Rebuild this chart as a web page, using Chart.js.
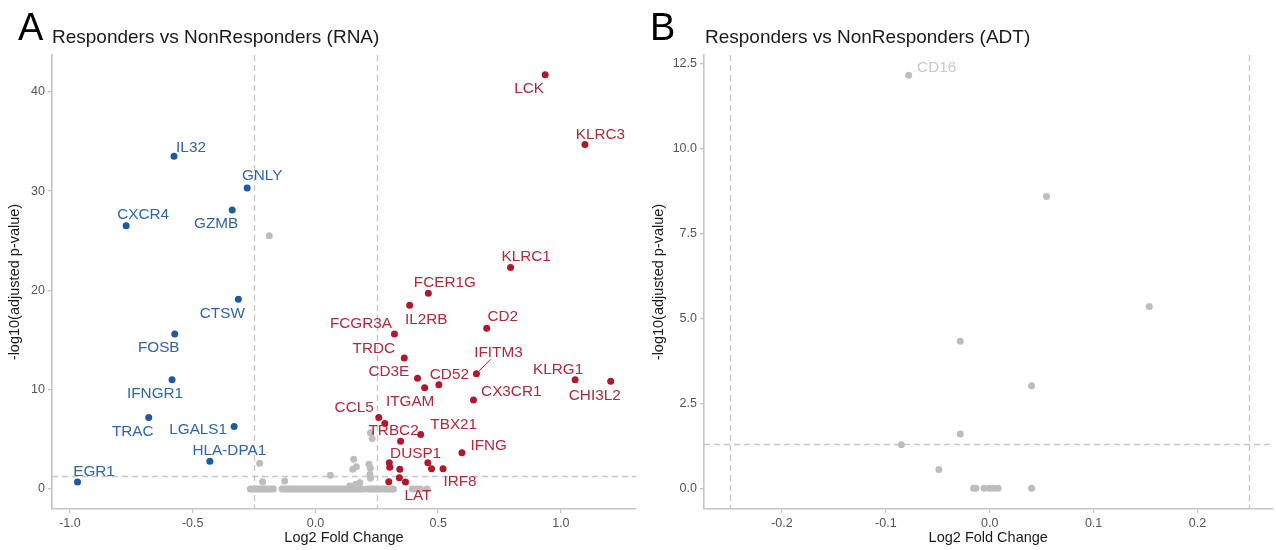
<!DOCTYPE html>
<html><head><meta charset="utf-8">
<script src="https://cdn.jsdelivr.net/npm/chart.js@4.4.1/dist/chart.umd.min.js"></script>
<style>
html,body{margin:0;padding:0;background:#fff;}
body{width:1276px;height:550px;position:relative;overflow:hidden;font-family:"Liberation Sans",Arial,sans-serif;}
.panel{position:absolute;top:0;height:550px;}
.letter{position:absolute;font-size:38px;line-height:38px;color:#000;white-space:nowrap;}
.title{position:absolute;font-size:19px;line-height:19px;color:#1a1a1a;white-space:nowrap;}
</style></head><body>
<div class="panel" style="left:0;width:640px"><canvas id="cA" width="640" height="550"></canvas></div>
<div class="panel" style="left:640px;width:636px"><canvas id="cB" width="636" height="550"></canvas></div>
<div class="letter" style="left:18px;top:8px">A</div>
<div class="title" style="left:52px;top:27px">Responders vs NonResponders (RNA)</div>
<div class="letter" style="left:650px;top:8px">B</div>
<div class="title" style="left:705px;top:27px">Responders vs NonResponders (ADT)</div>
<script>
// ---------- DATA: panel A (RNA) ----------
const rnaDownGenes = ['IL32','GNLY','CXCR4','GZMB','CTSW','FOSB','IFNGR1','TRAC','LGALS1','HLA-DPA1','EGR1'];
const rnaDownLogFC = [-0.576,-0.278,-0.771,-0.339,-0.314,-0.573,-0.584,-0.679,-0.331,-0.430,-0.969];
const rnaDownPadj  = [33.5,30.3,26.5,28.1,19.1,15.6,11.0,7.2,6.3,2.8,0.7];

const rnaUpGenes = ['LCK','KLRC3','KLRC1','FCER1G','IL2RB','CD2','FCGR3A','TRDC','IFITM3','KLRG1','CHI3L2','CD3E','CD52','ITGAM','CX3CR1','CCL5','TRBC2','TBX21','DUSP1','IFNG','IRF8','LAT','','','','','','',''];
const rnaUpLogFC = [0.936,1.098,0.795,0.460,0.384,0.698,0.322,0.362,0.656,1.058,1.203,0.416,0.503,0.445,0.644,0.258,0.283,0.429,0.347,0.597,0.520,0.367,0.301,0.458,0.303,0.344,0.473,0.299,0.342];
const rnaUpPadj  = [41.7,34.7,22.3,19.7,18.5,16.2,15.6,13.2,11.6,11.0,10.85,11.15,10.5,10.2,8.96,7.2,6.6,5.5,4.8,3.66,2.05,0.7,2.65,2.65,2.2,2.0,2.05,0.74,1.14];

const rnaNsLogFC = [-0.188,-0.227,-0.215,-0.125,0.061,0.156,0.167,0.152,0.181,0.224,0.231,0.218,0.224,0.222,0.224,0.163,0.140,
  -0.265,-0.258,-0.249,-0.243,-0.234,-0.226,-0.219,-0.210,-0.203,-0.195,-0.186,-0.178,-0.171,
  -0.136,-0.128,-0.121,-0.112,-0.104,-0.097,-0.088,-0.080,-0.073,-0.064,-0.056,-0.049,-0.041,-0.032,-0.025,-0.017,-0.008,0.000,0.007,0.016,0.024,0.031,0.040,0.048,0.055,0.064,0.072,0.079,0.088,0.096,0.103,0.112,0.120,0.127,0.136,0.144,0.151,0.160,0.168,0.175,0.184,0.191,
  0.212,0.221,0.229,0.238,0.246,0.255,0.263,0.272,0.280,0.289,0.297,0.306,0.314,0.318,
  0.395,0.412,0.428,0.455];
const rnaNsPadj = [25.5,2.6,0.74,0.8,1.4,3.0,2.25,2.0,0.67,5.67,5.1,2.5,2.1,1.48,1.08,0.45,0.3,
  0,0,0,0,0,0,0,0,0,0,0,0,0,
  0,0,0,0,0,0,0,0,0,0,0,0,0,0,0,0,0,0,0,0,0,0,0,0,0,0,0,0,0,0,0,0,0,0,0,0,0,0,0,0,0,0,
  0,0,0,0,0,0,0,0,0,0,0,0,0,0,
  0,0,0,0];

// ---------- DATA: panel B (ADT) ----------
const adtGenes = ['CD16','','','','','','','','','','','','','',''];
const adtLogFC = [-0.078,0.0547,0.1536,-0.0283,0.0403,-0.0283,-0.085,-0.0489,-0.0155,-0.0132,-0.0054,0.000,0.0035,0.0081,0.0403];
const adtPadj  = [12.16,8.59,5.35,4.33,3.02,1.60,1.28,0.55,0,0,0,0,0,0,0];

// ---------- thresholds & ticks ----------
const fcCutoff = 0.25;
const padjCutoff = 1.3;
const xTickLabelsA = ['-1.0','-0.5','0.0','0.5','1.0'];
const yTickLabelsA = ['0','10','20','30','40'];
const xTickLabelsB = ['-0.2','-0.1','0.0','0.1','0.2'];
const yTickLabelsB = ['0.0','2.5','5.0','7.5','10.0','12.5'];

// ---------- layout (label offsets in px, relative to point) ----------
const labelOffsetsA = {
  IL32:[17,-10], GNLY:[15,-13], CXCR4:[17,-12], GZMB:[-16,13], CTSW:[-16,13], FOSB:[-16,13],
  IFNGR1:[-17,13], TRAC:[-16,13], LGALS1:[-36,2], 'HLA-DPA1':[19.5,-11], EGR1:[16.5,-11],
  LCK:[-16,13], KLRC3:[15.5,-10.5], KLRC1:[15.6,-11.3], FCER1G:[16.5,-12], IL2RB:[16.5,13.5],
  CD2:[16,-12], FCGR3A:[-33.5,-11.5], TRDC:[-30.4,-10.5], IFITM3:[22,-22.5,true], KLRG1:[-17,-11],
  CHI3L2:[-16,13.7], CD3E:[-28.7,-7.8], CD52:[10.5,-11.2], ITGAM:[-14.5,12.6], CX3CR1:[37.8,-9.5],
  CCL5:[-24.6,-11], TRBC2:[8.7,6.6], TBX21:[33,-11], DUSP1:[15,11.6], IFNG:[26.7,-7.7],
  IRF8:[17,12.3], LAT:[12.5,12.5]
};
const labelOffsetsB = { CD16:[28,-9] };

const C_BLUE='#1d5aa6', C_BLUE_T='#2e66ab', C_RED='#b2182b', C_RED_T='#b3283a', C_GRAY='#bdbdbd', C_GRAY_T='#c9c9c9';
const FONT = "'Liberation Sans', Arial, sans-serif";

function pts(xs, ys){ return xs.map((v,i)=>({x:v, y:ys[i]})); }

const refLines = {
  id:'refLines',
  beforeDatasetsDraw(chart){
    const {ctx, chartArea:a, scales:{x,y}} = chart;
    ctx.save();
    ctx.strokeStyle='#c6c6c6'; ctx.lineWidth=1.3; ctx.setLineDash([6,4]);
    [-fcCutoff, fcCutoff].forEach(v=>{
      const px=Math.round(x.getPixelForValue(v))+0.5;
      if(px<a.left||px>a.right) return;
      ctx.beginPath(); ctx.moveTo(px,a.top); ctx.lineTo(px,a.bottom); ctx.stroke();
    });
    const py=Math.round(y.getPixelForValue(padjCutoff))+0.5;
    ctx.beginPath(); ctx.moveTo(a.left,py); ctx.lineTo(a.right,py); ctx.stroke();
    ctx.restore();
  }
};
const pointLabels = {
  id:'pointLabels',
  afterDatasetsDraw(chart, args, opts){
    const {ctx} = chart;
    ctx.save();
    ctx.font = "15.3px " + FONT;
    ctx.textAlign='center'; ctx.textBaseline='middle';
    chart.data.datasets.forEach((ds, di)=>{
      if(!ds.labels) return;
      const meta = chart.getDatasetMeta(di);
      ds.labels.forEach((lab, i)=>{
        if(!lab) return;
        const off = opts.offsets[lab]; if(!off) return;
        const el = meta.data[i];
        const lx = el.x+off[0], ly = el.y+off[1];
        if(off[2]){
          ctx.strokeStyle = ds.labelColor; ctx.lineWidth=1;
          ctx.beginPath(); ctx.moveTo(el.x, el.y); ctx.lineTo(lx-8, ly+8); ctx.stroke();
        }
        ctx.fillStyle = ds.labelColor;
        ctx.fillText(lab, lx, ly+1);
      });
    });
    ctx.restore();
  }
};

function axis(labels, min, max, title, isX, fit, titlePad){
  const vals = labels.map(Number);
  return {
    type:'linear', min, max,
    afterBuildTicks(s){ s.ticks = vals.map(v=>({value:v})); },
    afterFit(s){ if(isX) s.height = fit; else s.width = fit; },
    ticks:{ autoSkip:false, maxRotation:0, padding:3, color:'#555', font:{family:FONT, size:12.5},
      callback:(v,i)=>labels[i] },
    grid:{ display:true, drawOnChartArea:false, drawTicks:true, tickLength:4, color:'#c4c4c4', lineWidth:1.3 },
    border:{ display:true, color:'#c4c4c4', width:1.6 },
    title:{ display:true, text:title, color:'#1a1a1a', font:{family:FONT, size:14.5}, padding:titlePad }
  };
}

function makeChart(id, datasets, xs, ys, offsets, pad){
  return new Chart(document.getElementById(id), {
    type:'scatter',
    data:{ datasets },
    options:{
      responsive:false, animation:false, events:[],
      layout:{ padding:pad },
      plugins:{ legend:{display:false}, tooltip:{enabled:false}, pointLabels:{offsets} },
      scales:{ x:xs, y:ys }
    },
    plugins:[refLines, pointLabels]
  });
}

const ptStyle = (c)=>({ pointRadius:3.5, pointBorderWidth:0, backgroundColor:c, borderColor:c, pointHoverRadius:3.5 });

makeChart('cA', [
  Object.assign({ data:pts(rnaNsLogFC, rnaNsPadj) }, ptStyle(C_GRAY)),
  Object.assign({ data:pts(rnaDownLogFC, rnaDownPadj), labels:rnaDownGenes, labelColor:C_BLUE_T }, ptStyle(C_BLUE)),
  Object.assign({ data:pts(rnaUpLogFC, rnaUpPadj), labels:rnaUpGenes, labelColor:C_RED_T }, ptStyle(C_RED))
], axis(xTickLabelsA, -1.073, 1.306, 'Log2 Fold Change', true, 41, {top:0,bottom:3}),
   axis(yTickLabelsA, -2.01, 43.7, '-log10(adjusted p-value)', false, 52, {top:6,bottom:0}),
   labelOffsetsA, {left:0, right:4, top:55, bottom:0});

makeChart('cB', [
  Object.assign({ data:pts(adtLogFC, adtPadj), labels:adtGenes, labelColor:C_GRAY_T }, ptStyle(C_GRAY))
], axis(xTickLabelsB, -0.275, 0.2722, 'Log2 Fold Change', true, 41, {top:0,bottom:3}),
   axis(yTickLabelsB, -0.61, 12.76, '-log10(adjusted p-value)', false, 64, {top:10,bottom:0}),
   labelOffsetsB, {left:0, right:0, top:55, bottom:0});
</script>
</body></html>
